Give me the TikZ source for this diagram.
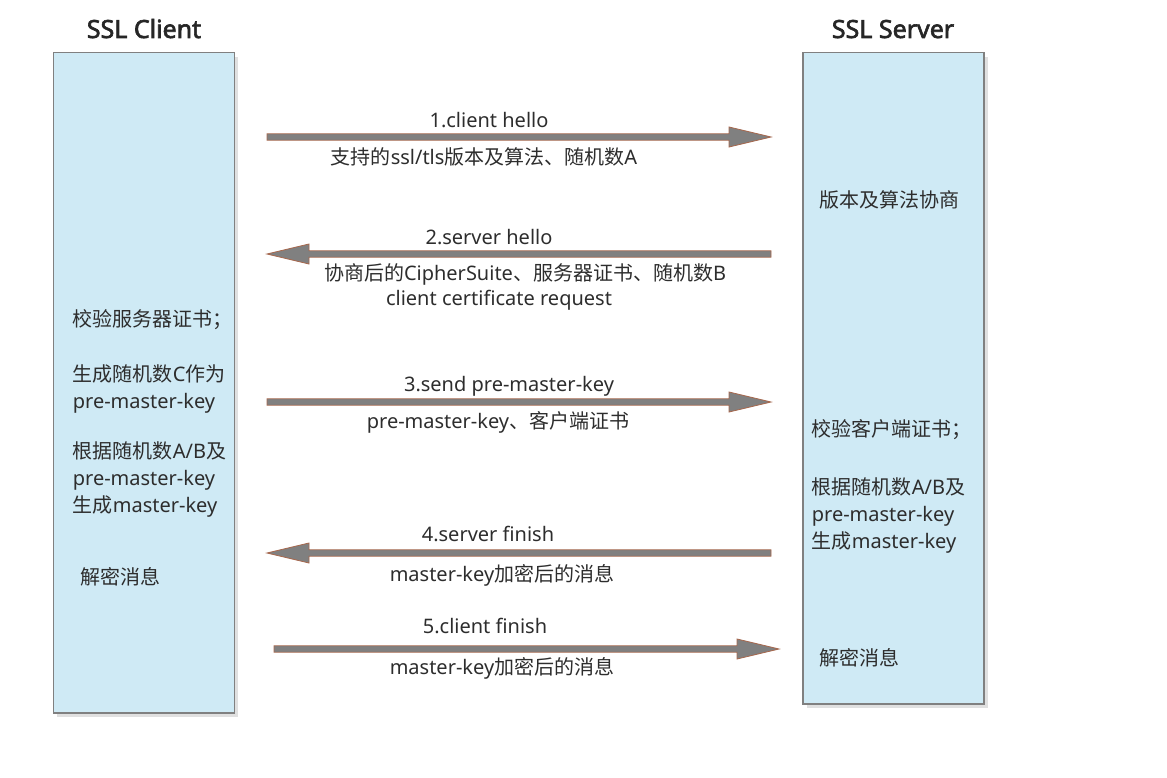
\documentclass[tikz,border=0pt]{standalone}
\usepackage{fontspec}
\setmainfont{Noto Sans}[AutoFakeBold=2.5]
\newfontfamily\zhfont{Noto Sans CJK SC}
\usetikzlibrary{calc,shadows}

\definecolor{boxblue}{RGB}{207,234,245}
\definecolor{boxline}{RGB}{128,128,128}
\definecolor{arrowgray}{RGB}{128,128,128}
\definecolor{arrowline}{RGB}{166,104,78}
\definecolor{textgray}{RGB}{45,45,45}
\definecolor{titlegray}{RGB}{38,38,38}

\newcommand{\zh}[1]{{\zhfont #1}}
% fat message arrow from #1 to #2 (horizontal)
\newcommand{\msgarrow}[2]{%
    \draw[msg] ($(#1)+(0,-3.2)$)
        -- ($(#2)!25.2pt!(#1)+(0,-3.2)$)
        -- ($(#2)!25.2pt!(#1)+(0,-10)$)
        -- (#2)
        -- ($(#2)!25.2pt!(#1)+(0,10)$)
        -- ($(#2)!25.2pt!(#1)+(0,3.2)$)
        -- ($(#1)+(0,3.2)$) -- cycle;}

\begin{document}
\begin{tikzpicture}[x=0.6pt, y=-0.6pt,
    party/.style={draw=boxline, fill=boxblue, line width=0.9pt,
        inner sep=0pt, minimum width=108.5pt,
        drop shadow={shadow xshift=2.4pt, shadow yshift=-2.4pt,
            fill=black!12, opacity=1}},
    title/.style={anchor=base, inner sep=0pt, text=titlegray,
        font=\fontsize{15}{18}\selectfont\bfseries},
    note/.style={anchor=base, inner sep=0pt, text=textgray,
        font=\fontsize{12}{14}\selectfont},
    side/.style={note, anchor=base west},
    msg/.style={draw=arrowline, fill=arrowgray, line width=0.5pt,
        line join=miter}
]
    \useasboundingbox (0,0) rectangle (1167,778);

    \node[title] (client_title) at (144, 38) {SSL Client};
    \node[title] (server_title) at (893, 38) {SSL Server};
    \node[party, minimum height=396.2pt] (client) at (143.9, 382.9) {};
    \node[party, minimum height=390.8pt] (server) at (893.6, 378.4) {};

    % client side
    \node[side] (client_verify) at (72.5, 326) {\zh{校验服务器证书；}};
    \node[side] (client_gen1) at (72.5, 381) {\zh{生成随机数}C\zh{作为}};
    \node[side] (client_gen2) at (72.5, 408) {pre-master-key};
    \node[side] (client_key1) at (72.5, 458) {\zh{根据随机数}A/B\zh{及}};
    \node[side] (client_key2) at (72.5, 485) {pre-master-key};
    \node[side] (client_key3) at (72.5, 512) {\zh{生成}master-key};
    \node[side] (client_decrypt) at (80, 584) {\zh{解密消息}};

    % server side
    \node[side] (server_nego) at (819, 207) {\zh{版本及算法协商}};
    \node[side] (server_verify) at (811.5, 436) {\zh{校验客户端证书；}};
    \node[side] (server_key1) at (811.5, 494) {\zh{根据随机数}A/B\zh{及}};
    \node[side] (server_key2) at (811.5, 521) {pre-master-key};
    \node[side] (server_key3) at (811.5, 548) {\zh{生成}master-key};
    \node[side] (server_decrypt) at (819, 665) {\zh{解密消息}};

    % messages
    \coordinate (m1_from) at (267, 137);
    \coordinate (m1_to) at (771, 137);
    \coordinate (m2_from) at (771, 254);
    \coordinate (m2_to) at (267, 254);
    \coordinate (m3_from) at (267, 402);
    \coordinate (m3_to) at (771, 402);
    \coordinate (m4_from) at (771, 553);
    \coordinate (m4_to) at (267, 553);
    \coordinate (m5_from) at (274, 649);
    \coordinate (m5_to) at (779, 649);
    \msgarrow{m1_from}{m1_to}
    \msgarrow{m2_from}{m2_to}
    \msgarrow{m3_from}{m3_to}
    \msgarrow{m4_from}{m4_to}
    \msgarrow{m5_from}{m5_to}

    \node[note] (m1_name) at (489, 127) {1.client hello};
    \node[note] (m1_body) at (484, 164)
        {\zh{支持的}ssl/tls\zh{版本及算法、随机数}A};
    \node[note] (m2_name) at (489, 244) {2.server hello};
    \node[note] (m2_body) at (525, 280)
        {\zh{协商后的}CipherSuite\zh{、服务器证书、随机数}B};
    \node[note] (m2_extra) at (499, 305) {client certificate request};
    \node[note] (m3_name) at (509, 391) {3.send pre-master-key};
    \node[note] (m3_body) at (498, 428) {pre-master-key\zh{、客户端证书}};
    \node[note] (m4_name) at (488, 541) {4.server finish};
    \node[note] (m4_body) at (502, 581) {master-key\zh{加密后的消息}};
    \node[note] (m5_name) at (485, 633) {5.client finish};
    \node[note] (m5_body) at (502, 674) {master-key\zh{加密后的消息}};
\end{tikzpicture}
\end{document}
